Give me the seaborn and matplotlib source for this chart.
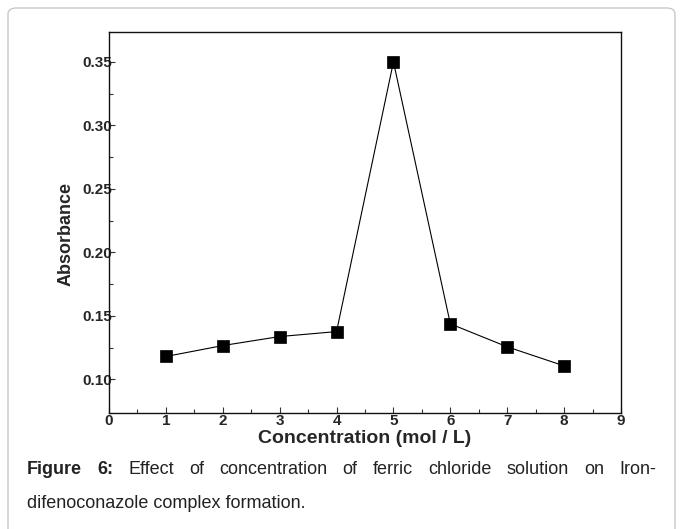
import matplotlib
matplotlib.use("Agg")
import matplotlib.pyplot as plt
from matplotlib.patches import FancyBboxPatch
from matplotlib.ticker import MultipleLocator, FixedLocator
import seaborn as sns
import pandas as pd

# ---- data ----
concentration = [1, 2, 3, 4, 5, 6, 7, 8]
absorbance = [0.118, 0.1266, 0.1337, 0.1376, 0.350, 0.1437, 0.1256, 0.1106]
x_ticks = [0, 1, 2, 3, 4, 5, 6, 7, 8, 9]
y_ticks = [0.10, 0.15, 0.20, 0.25, 0.30, 0.35]
y_tick_labels = ["0.10", "0.15", "0.20", "0.25", "0.30", "0.35"]
x_label = "Concentration (mol / L)"
y_label = "Absorbance"
caption_line1 = ["Figure", "6:", "Effect", "of", "concentration", "of", "ferric",
                 "chloride", "solution", "on", "Iron-"]
caption_line2 = "difenoconazole complex formation."

df = pd.DataFrame({"c": concentration, "a": absorbance})

sns.set_theme(style="ticks")
plt.rcParams["font.family"] = ["Liberation Sans", "DejaVu Sans"]

W, H = 683, 529
fig = plt.figure(figsize=(W / 100, H / 100), dpi=100)
fig.patch.set_facecolor("white")

# outer rounded frame
frame = FancyBboxPatch((8 / W, -0.05), (675 - 8) / W, 1.0 - 8 / H + 0.05,
                       boxstyle="round,pad=0,rounding_size=0.012",
                       transform=fig.transFigure, facecolor="none",
                       edgecolor="#c8c8c8", linewidth=1.0, zorder=0)
fig.patches.append(frame)

ax = fig.add_axes([109 / W, (H - 413) / H, (621 - 109) / W, (413 - 32) / H])
sns.lineplot(data=df, x="c", y="a", ax=ax, color="black", linewidth=0.8,
             marker="s", markersize=8, markeredgecolor="black",
             markerfacecolor="black", markeredgewidth=0.5)

ax.set_xlim(0, 9)
ax.set_ylim(0.0735, 0.3735)
ax.xaxis.set_major_locator(FixedLocator(x_ticks))
ax.xaxis.set_minor_locator(MultipleLocator(0.5))
ax.yaxis.set_major_locator(FixedLocator(y_ticks))
ax.set_yticklabels(y_tick_labels)
ax.yaxis.set_minor_locator(FixedLocator([0.125, 0.175, 0.225, 0.275, 0.325]))

for s in ax.spines.values():
    s.set_visible(True)
    s.set_linewidth(1.0)
    s.set_color("#111111")

ax.tick_params(axis="both", which="both", direction="in", top=False, right=False,
               color="#333333", width=0.8)
ax.tick_params(axis="both", which="major", length=4, labelsize=11)
ax.tick_params(axis="both", which="minor", length=3)
ax.tick_params(axis="y", which="major", pad=-2)
ax.tick_params(axis="x", which="major", pad=1)
for lab in ax.get_xticklabels() + ax.get_yticklabels():
    lab.set_fontweight("bold")

ax.set_xlabel(x_label, fontsize=14, fontweight="bold", labelpad=1)
ax.set_ylabel(y_label, fontsize=13, fontweight="bold")
ax.yaxis.set_label_coords(-0.068, 0.47)
ax.grid(False)

# caption, justified first line between x=27 and x=656 px
left_px, right_px = 27, 656
texts = []
for i, w in enumerate(caption_line1):
    t = fig.text(0, 1 - 469 / H, w, fontsize=13, va="center", ha="left",
                 fontweight="bold" if i < 2 else "normal", color="#222222")
    texts.append(t)
fig.canvas.draw()
renderer = fig.canvas.get_renderer()
widths = [t.get_window_extent(renderer).width for t in texts]
gap = (right_px - left_px - sum(widths)) / (len(texts) - 1)
xp = left_px
for t, wd in zip(texts, widths):
    t.set_x(xp / W)
    xp += wd + gap
fig.text(left_px / W, 1 - 503 / H, caption_line2, fontsize=13, va="center",
         ha="left", color="#222222")

fig.savefig("out.png", dpi=100, facecolor="white")
